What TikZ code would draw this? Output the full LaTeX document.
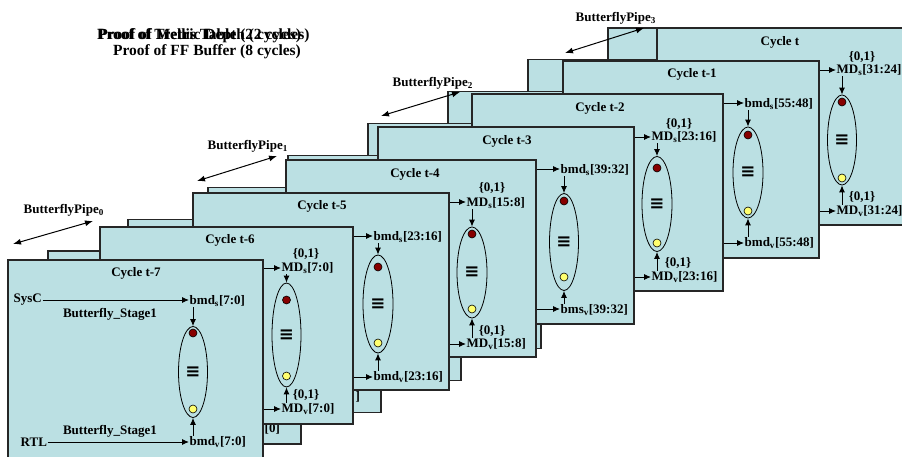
\documentclass[tikz,border=0pt]{standalone}
\usepackage{fontspec}
\setmainfont{Liberation Serif}
\newfontfamily\symfam{DejaVu Sans}
\usetikzlibrary{arrows.meta,shapes.geometric}
\definecolor{panelfill}{RGB}{187,224,227}
\definecolor{dotred}{RGB}{135,0,0}
\definecolor{dotyellow}{RGB}{255,255,110}
\begin{document}
\begin{tikzpicture}[x=1pt,y=-1pt,
  font=\fontsize{13}{15}\selectfont\bfseries,
  panel/.style={draw=black!85, line width=1.1pt, fill=panelfill},
  lbl/.style={anchor=west, inner sep=0.5pt},
  ttl/.style={inner sep=0pt},
  oval/.style={ellipse, draw, line width=0.8pt, inner sep=0pt, font=\symfam\fontsize{18}{18}\selectfont\bfseries},
  dotr/.style={circle, draw, line width=0.6pt, fill=dotred, minimum size=8pt, inner sep=0pt},
  doty/.style={circle, draw, line width=0.6pt, fill=dotyellow, minimum size=8pt, inner sep=0pt},
  arr/.style={-{Latex[length=7pt,width=6pt]}, line width=0.9pt},
  pipe/.style={{Latex[length=8pt,width=6pt]}-{Latex[length=8pt,width=6pt]}, line width=1pt}
]
\useasboundingbox (0,0) rectangle (902,457);
\clip (0,0) rectangle (902,457);

% ---------- titles ----------
\node[ttl, font=\fontsize{15.5}{17}\selectfont\bfseries] (tA) at (199,36) {Proof of Trellis Table (2 cycles)};
\node[ttl, font=\fontsize{15.5}{17}\selectfont\bfseries] (tB) at (204,36) {Proof of Metric Depth (2 cycles)};
\node[ttl, font=\fontsize{15.5}{17}\selectfont\bfseries] (tC) at (207,52) {Proof of FF Buffer (8 cycles)};

% ---------- ghost panels ----------
\foreach \i in {7,6,...,0} {
  \draw[panel] ({48+80*\i},{251-31.86*\i}) rectangle +(253,193);
}
\node[lbl] (g0) at (264,429) {[0]};
\node[lbl] (g1) at (355,397) {]};

% ---------- Cycle t ----------
\draw[panel] (657,28) rectangle (913,225);
\node[ttl] (c7) at (780,42) {Cycle t};
\coordinate (i7a) at (805,70);
\coordinate (i7b) at (805,211);
\node[ttl] (z7a) at (862,57) {\{0,1\}};
\node[lbl] (l7a) at (836,70) {MD\textsubscript{s}[31:24]};
\node[oval, minimum width=29pt, minimum height=90pt] (e7) at (842,140) {≡};
\node[dotr] (r7) at (842,102) {};
\node[doty] (y7) at (842,178) {};
\node[ttl] (z7b) at (862,197) {\{0,1\}};
\node[lbl] (l7b) at (836,211) {MD\textsubscript{v}[31:24]};
\draw[arr] (i7a) -- (l7a.west);
\draw[arr] (i7b) -- (l7b.west);
\draw[arr] (e7.north |- l7a.south) -- (e7.north);
\draw[arr] (e7.south |- l7b.north) -- (e7.south);

% ---------- Cycle t-1 ----------
\draw[panel] (563,61) rectangle (819,258);
\node[ttl] (c6) at (692,74) {Cycle t-1};
\coordinate (i6a) at (710,103);
\coordinate (i6b) at (710,243);
\node[lbl] (l6a) at (744,104) {bmd\textsubscript{s}[55:48]};
\node[oval, minimum width=30pt, minimum height=91pt] (e6) at (748,172.5) {≡};
\node[dotr] (r6) at (748,135) {};
\node[doty] (y6) at (748,211) {};
\node[lbl] (l6b) at (744,243) {bmd\textsubscript{v}[55:48]};
\draw[arr] (i6a) -- (i6a -| l6a.west);
\draw[arr] (i6b) -- (l6b.west);
\draw[arr] (e6.north |- l6a.south) -- (e6.north);
\draw[arr] (e6.south |- l6b.north) -- (e6.south);

% ---------- Cycle t-2 ----------
\draw[panel] (472,94) rectangle (723,291);
\node[ttl] (c5) at (600,108) {Cycle t-2};
\coordinate (i5a) at (620,137);
\coordinate (i5b) at (620,277);
\node[ttl] (z5a) at (679,124) {\{0,1\}};
\node[lbl] (l5a) at (651,137) {MD\textsubscript{s}[23:16]};
\node[oval, minimum width=30pt, minimum height=95pt] (e5) at (657,204) {≡};
\node[dotr] (r5) at (657,168) {};
\node[doty] (y5) at (657,243) {};
\node[ttl] (z5b) at (678,263) {\{0,1\}};
\node[lbl] (l5b) at (651,277) {MD\textsubscript{v}[23:16]};
\draw[arr] (i5a) -- (l5a.west);
\draw[arr] (i5b) -- (l5b.west);
\draw[arr] (e5.north |- l5a.south) -- (e5.north);
\draw[arr] (e5.south |- l5b.north) -- (e5.south);

% ---------- Cycle t-3 ----------
\draw[panel] (378,127) rectangle (634,324);
\node[ttl] (c4) at (507,141) {Cycle t-3};
\coordinate (i4a) at (525,169);
\coordinate (i4b) at (525,309);
\node[lbl] (l4a) at (560,170) {bmd\textsubscript{s}[39:32]};
\node[oval, minimum width=29pt, minimum height=97pt] (e4) at (564,242) {≡};
\node[dotr] (r4) at (564,201) {};
\node[doty] (y4) at (564,277) {};
\node[lbl] (l4b) at (560,310) {bms\textsubscript{v}[39:32]};
\draw[arr] (i4a) -- (i4a -| l4a.west);
\draw[arr] (i4b) -- (i4b -| l4b.west);
\draw[arr] (e4.north |- l4a.south) -- (e4.north);
\draw[arr] (e4.south |- l4b.north) -- (e4.south);

% ---------- Cycle t-4 ----------
\draw[panel] (286,160) rectangle (536,357);
\node[ttl] (c3) at (415,174) {Cycle t-4};
\coordinate (i3a) at (440,202);
\coordinate (i3b) at (440,344);
\node[ttl] (z3a) at (492,188) {\{0,1\}};
\node[lbl] (l3a) at (466,203) {MD\textsubscript{s}[15:8]};
\node[oval, minimum width=30pt, minimum height=91pt] (e3) at (472,272.5) {≡};
\node[dotr] (r3) at (472,234) {};
\node[doty] (y3) at (472,309) {};
\node[ttl] (z3b) at (492,331) {\{0,1\}};
\node[lbl] (l3b) at (466,344) {MD\textsubscript{v}[15:8]};
\draw[arr] (i3a) -- (i3a -| l3a.west);
\draw[arr] (i3b) -- (l3b.west);
\draw[arr] (e3.north |- l3a.south) -- (e3.north);
\draw[arr] (e3.south |- l3b.north) -- (e3.south);

% ---------- Cycle t-5 ----------
\draw[panel] (193,193) rectangle (449,390);
\node[ttl] (c2) at (322,206) {Cycle t-5};
\coordinate (i2a) at (340,236);
\coordinate (i2b) at (340,377);
\node[lbl] (l2a) at (373,237) {bmd\textsubscript{s}[23:16]};
\node[oval, minimum width=30pt, minimum height=98pt] (e2) at (378,304) {≡};
\node[dotr] (r2) at (378,267) {};
\node[doty] (y2) at (378,343) {};
\node[lbl] (l2b) at (373,377) {bmd\textsubscript{v}[23:16]};
\draw[arr] (i2a) -- (i2a -| l2a.west);
\draw[arr] (i2b) -- (l2b.west);
\draw[arr] (e2.north |- l2a.south) -- (e2.north);
\draw[arr] (e2.south |- l2b.north) -- (e2.south);

% ---------- Cycle t-6 ----------
\draw[panel] (100,227) rectangle (353,424);
\node[ttl] (c1) at (230,240) {Cycle t-6};
\coordinate (i1a) at (245,268);
\coordinate (i1b) at (245,409);
\node[ttl] (z1a) at (306,254) {\{0,1\}};
\node[lbl] (l1a) at (281,268) {MD\textsubscript{s}[7:0]};
\node[oval, minimum width=29pt, minimum height=104pt] (e1) at (286.5,335) {≡};
\node[dotr] (r1) at (286.5,300) {};
\node[doty] (y1) at (286.5,376) {};
\node[ttl] (z1b) at (306,395) {\{0,1\}};
\node[lbl] (l1b) at (281,409) {MD\textsubscript{v}[7:0]};
\draw[arr] (i1a) -- (l1a.west);
\draw[arr] (i1b) -- (l1b.west);
\draw[arr] (e1.north |- l1a.south) -- (e1.north);
\draw[arr] (e1.south |- l1b.north) -- (e1.south);

% ---------- Cycle t-7 ----------
\draw[panel] (8,260) rectangle (263,460);
\node[ttl] (c0) at (136,273) {Cycle t-7};
\node[lbl] (sysc) at (13,300) {SysC};
\node[lbl] (l0a) at (189,301) {bmd\textsubscript{s}[7:0]};
\node[ttl] (bs0a) at (110,314) {Butterfly\_Stage1};
\node[oval, minimum width=29pt, minimum height=91pt] (e0) at (193,372) {≡};
\node[dotr] (r0) at (193,333) {};
\node[doty] (y0) at (193,409) {};
\node[ttl] (bs0b) at (110,431) {Butterfly\_Stage1};
\node[lbl] (rtl) at (20,442) {RTL};
\node[lbl] (l0b) at (189,442) {bmd\textsubscript{v}[7:0]};
\draw[arr] (sysc.east) -- (sysc.east -| l0a.west);
\draw[arr] (rtl.east) -- (l0b.west);
\draw[arr] (e0.north |- l0a.south) -- (e0.north);
\draw[arr] (e0.south |- l0b.north) -- (e0.south);

% ---------- ButterflyPipe labels ----------
\node[lbl] (bp0) at (23,210) {ButterflyPipe\textsubscript{0}};
\coordinate (p0a) at (13,244); \coordinate (p0b) at (93,221);
\draw[pipe] (p0a) -- (p0b);
\node[lbl] (bp1) at (207,146) {ButterflyPipe\textsubscript{1}};
\coordinate (p1a) at (197,181); \coordinate (p1b) at (277,156);
\draw[pipe] (p1a) -- (p1b);
\node[lbl] (bp2) at (392,83) {ButterflyPipe\textsubscript{2}};
\coordinate (p2a) at (381,116); \coordinate (p2b) at (460,92);
\draw[pipe] (p2a) -- (p2b);
\node[lbl] (bp3) at (575,18) {ButterflyPipe\textsubscript{3}};
\coordinate (p3a) at (565,53); \coordinate (p3b) at (644,28);
\draw[pipe] (p3a) -- (p3b);
\end{tikzpicture}
\end{document}
